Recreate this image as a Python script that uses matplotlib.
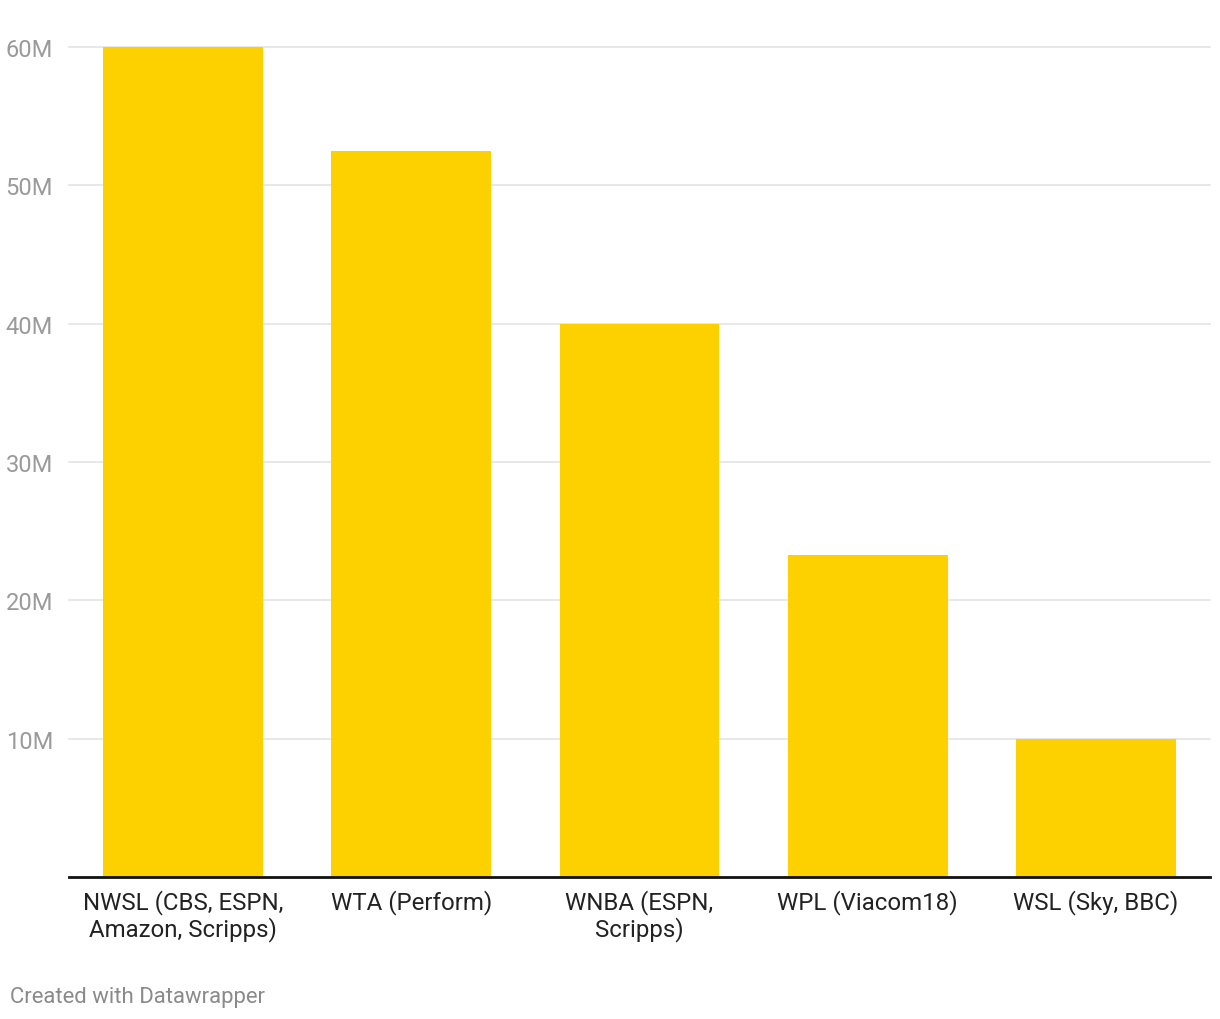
import matplotlib
matplotlib.use("Agg")
import matplotlib.pyplot as plt

categories = ["NWSL (CBS, ESPN,\nAmazon, Scripps)", "WTA (Perform)", "WNBA (ESPN,\nScripps)",
              "WPL (Viacom18)", "WSL (Sky, BBC)"]
values = [60, 52.5, 40, 23.3, 10]  # millions
yticks = [10, 20, 30, 40, 50, 60]
ytick_labels = ["10M", "20M", "30M", "40M", "50M", "60M"]

plt.rcParams['font.family'] = ['Roboto', 'DejaVu Sans']

W, H = 1220, 1020
fig = plt.figure(figsize=(W / 100, H / 100), dpi=100)
ax = fig.add_axes([69 / W, (H - 878) / H, (1210 - 69) / W, (878 - 48) / H])

x = list(range(len(categories)))
ax.bar(x, values, width=0.70, color="#FDD100", zorder=2)
ax.set_xlim(-0.5, len(categories) - 0.5)
ax.set_ylim(0, 60)

for t in yticks:
    ax.axhline(t, color="#e4e4e4", lw=1.2, zorder=1, clip_on=False)

ax.set_yticks(yticks)
ax.set_yticklabels(ytick_labels)
ax.tick_params(axis="y", length=0, pad=11.5, labelsize=17, labelcolor="#9a9a9a")
ax.set_xticks(x)
ax.set_xticklabels(categories, fontsize=17.3, color="#222222", linespacing=1.12)
ax.tick_params(axis="x", length=0, pad=8.5)

for s in ["top", "right", "left"]:
    ax.spines[s].set_visible(False)
ax.spines["bottom"].set_color("#111111")
ax.spines["bottom"].set_linewidth(2)
ax.spines["bottom"].set_zorder(3)

fig.text(10 / W, 1 - 998 / H, "Created with Datawrapper", fontsize=15.9, color="#8a8a8a",
         ha="left", va="center")

fig.savefig("out.png", dpi=100, facecolor="white")
